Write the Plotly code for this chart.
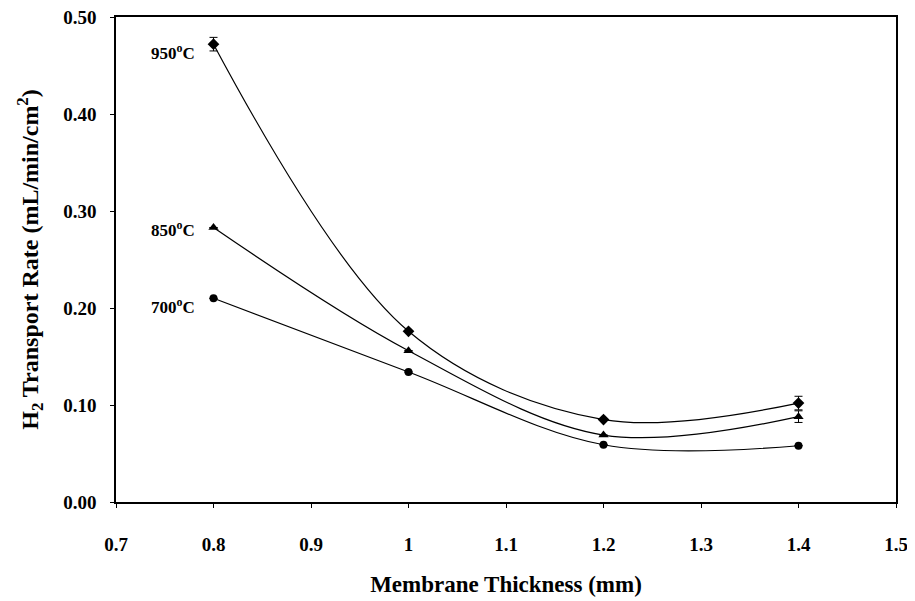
import plotly.graph_objects as go

thickness = [0.8, 1.0, 1.2, 1.4]
rate_950 = [0.472, 0.176, 0.085, 0.102]
err_950 = [0.007, 0.0, 0.0, 0.007]
rate_850 = [0.283, 0.156, 0.069, 0.088]
err_850 = [0.0, 0.0, 0.0, 0.006]
rate_700 = [0.210, 0.134, 0.059, 0.058]
err_700 = [0.0, 0.0, 0.0, 0.0]

series = [
    ("950<sup>o</sup>C", rate_950, err_950, "diamond", 9),
    ("850<sup>o</sup>C", rate_850, err_850, "triangle-up", 9),
    ("700<sup>o</sup>C", rate_700, err_700, "circle", 8),
]
label_yshift = [-8, -2, -8]

x_ticks = [0.7, 0.8, 0.9, 1.0, 1.1, 1.2, 1.3, 1.4, 1.5]
x_ticktext = ["0.7", "0.8", "0.9", "1", "1.1", "1.2", "1.3", "1.4", "1.5"]
y_ticks = [0.0, 0.1, 0.2, 0.3, 0.4, 0.5]
y_ticktext = ["0.00", "0.10", "0.20", "0.30", "0.40", "0.50"]

font = "Liberation Serif"
fig = go.Figure()
for name, vals, errs, sym, sz in series:
    fig.add_trace(go.Scatter(
        x=thickness, y=vals, mode="lines+markers", name=name,
        line=dict(color="black", width=1.2, shape="spline", smoothing=1.0),
        marker=dict(symbol=sym, size=sz, color="black"),
        error_y=dict(type="data", array=errs, visible=True, color="black",
                     thickness=1, width=4),
        showlegend=False,
    ))

for (name, vals, errs, sym, sz), ys in zip(series, label_yshift):
    fig.add_annotation(x=thickness[0], y=vals[0], text="<b>" + name + "</b>",
                       showarrow=False, xanchor="right", xshift=-17, yshift=ys,
                       font=dict(family=font, size=17, color="black"))

fig.update_layout(
    width=907, height=593,
    margin=dict(l=108, r=19, t=9, b=99),
    paper_bgcolor="white", plot_bgcolor="white",
    font=dict(family=font, color="black"),
)
fig.update_xaxes(
    automargin=False, ticklabeloverflow="allow",
    range=[0.7, 1.5], tickvals=x_ticks, ticktext=x_ticktext,
    showgrid=False, zeroline=False, showline=True, linecolor="black",
    linewidth=1.5, mirror=True, ticks="outside", ticklen=4, tickcolor="black",
    tickfont=dict(family=font, size=19, color="black", weight="bold"),
    ticklabelstandoff=20,
    title=dict(text="<b>Membrane Thickness (mm)</b>",
               font=dict(family=font, size=23, color="black"), standoff=22),
)
fig.update_yaxes(
    automargin=False, ticklabeloverflow="allow",
    range=[0.0, 0.5], tickvals=y_ticks, ticktext=y_ticktext,
    showgrid=False, zeroline=False, showline=True, linecolor="black",
    linewidth=1.5, mirror=True, ticks="outside", ticklen=4, tickcolor="black",
    tickfont=dict(family=font, size=19, color="black", weight="bold"),
    ticklabelstandoff=10,
    title=dict(text="<b>H<sub>2</sub> Transport Rate (mL/min/cm<sup>2</sup>)</b>",
               font=dict(family=font, size=24, color="black"), standoff=18),
)

fig.write_html("out.html")
